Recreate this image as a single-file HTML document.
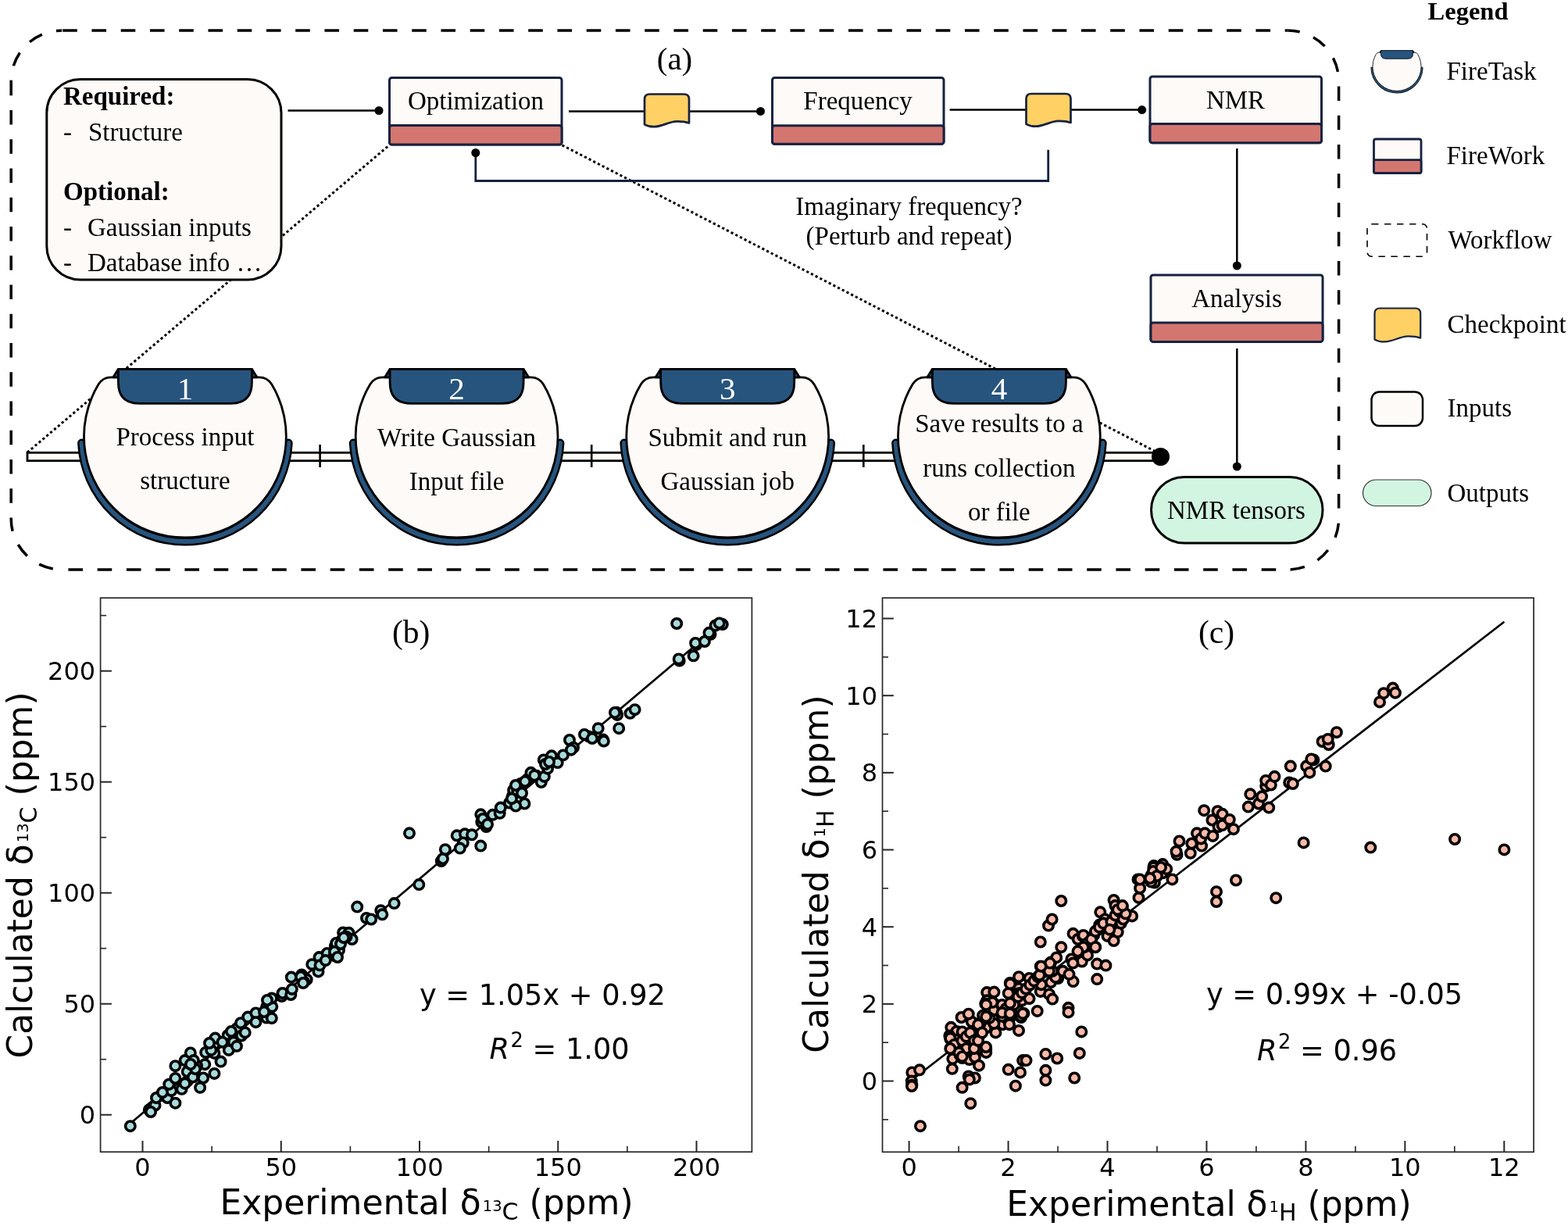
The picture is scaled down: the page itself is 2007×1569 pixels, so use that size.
<!DOCTYPE html>
<html><head><meta charset="utf-8"><title>FireWorks NMR workflow</title>
<style>html,body{margin:0;padding:0;background:#fff;} svg{display:block;}</style></head>
<body><svg width="2007" height="1569" viewBox="0 0 2007 1569">
<rect width="2007" height="1569" fill="#fff"/>
<path d="M79.2,39 L1648.6,39" fill="none" stroke="#000" stroke-width="3.5" stroke-dasharray="18.6 18.65" stroke-dashoffset="36.25"/>
<path d="M1713.6,104 L1713.6,664" fill="none" stroke="#000" stroke-width="3.5" stroke-dasharray="18.6 18.65" stroke-dashoffset="30.75"/>
<path d="M79.2,729 L1648.6,729" fill="none" stroke="#000" stroke-width="3.5" stroke-dasharray="18.6 18.65" stroke-dashoffset="29.05"/>
<path d="M14.2,104 L14.2,664" fill="none" stroke="#000" stroke-width="3.5" stroke-dasharray="18.6 18.65" stroke-dashoffset="0.30"/>
<path d="M14.2,104 A65,65 0 0 1 79.2,39" fill="none" stroke="#000" stroke-width="3.5" stroke-dasharray="18.6 18.65" stroke-dashoffset="17.15"/>
<path d="M1648.6,39 A65,65 0 0 1 1713.6,104" fill="none" stroke="#000" stroke-width="3.5" stroke-dasharray="18.6 18.65" stroke-dashoffset="3.35"/>
<path d="M1713.6,664 A65,65 0 0 1 1648.6,729" fill="none" stroke="#000" stroke-width="3.5" stroke-dasharray="18.6 18.65" stroke-dashoffset="31.45"/>
<path d="M14.2,664 A65,65 0 0 0 79.2,729" fill="none" stroke="#000" stroke-width="3.5" stroke-dasharray="18.6 18.65" stroke-dashoffset="2.65"/>
<text x="863.5" y="88.5" font-family="'Liberation Serif', 'Times New Roman', serif" font-size="41" text-anchor="middle">(a)</text>
<line x1="35" y1="579" x2="498" y2="186" stroke="#000" stroke-width="3" stroke-dasharray="3.2 3.2"/>
<line x1="719.5" y1="185.8" x2="1478" y2="577.3" stroke="#000" stroke-width="3" stroke-dasharray="3.2 3.2"/>
<rect x="59.8" y="101.5" width="300.2" height="256.5" rx="43" ry="43" fill="#FEFAF7" stroke="#000" stroke-width="3"/>
<text font-family="'Liberation Serif', 'Times New Roman', serif" font-size="33"><tspan x="81" y="133.6" font-weight="bold">Required:</tspan><tspan x="81" y="179.8">-</tspan><tspan x="113" y="179.8">Structure</tspan><tspan x="81" y="256.2" font-weight="bold">Optional:</tspan><tspan x="81" y="302">-</tspan><tspan x="112" y="302">Gaussian inputs</tspan><tspan x="81" y="347.3">-</tspan><tspan x="112" y="347.3">Database info …</tspan></text>
<line x1="368.5" y1="141.5" x2="485" y2="141.5" stroke="#000" stroke-width="2.5"/>
<circle cx="485" cy="141.5" r="5.5" fill="#000"/>
<line x1="728" y1="142.4" x2="826" y2="142.4" stroke="#000" stroke-width="2.5"/>
<line x1="882" y1="142.4" x2="973.5" y2="142.4" stroke="#000" stroke-width="2.5"/>
<circle cx="973.5" cy="142.4" r="5.5" fill="#000"/>
<line x1="1215.6" y1="140.6" x2="1314" y2="140.6" stroke="#000" stroke-width="2.5"/>
<line x1="1370" y1="140.6" x2="1461.7" y2="140.6" stroke="#000" stroke-width="2.5"/>
<circle cx="1461.7" cy="140.6" r="5.5" fill="#000"/>
<polyline points="1341.7,191.8 1341.7,231.5 608.8,231.5 608.8,196" fill="none" stroke="#16223F" stroke-width="2.8"/>
<circle cx="608.8" cy="195.5" r="5.5" fill="#000"/>
<line x1="1583.3" y1="190" x2="1583.3" y2="340" stroke="#000" stroke-width="2.5"/>
<circle cx="1583.3" cy="340" r="5.5" fill="#000"/>
<line x1="1583.3" y1="446" x2="1583.3" y2="597" stroke="#000" stroke-width="2.5"/>
<circle cx="1583.3" cy="597" r="5.5" fill="#000"/>
<rect x="498.5" y="99.5" width="220.5" height="85.5" rx="3" fill="#FEFAF7" stroke="#16223F" stroke-width="3"/>
<rect x="498.5" y="160.5" width="220.5" height="24.5" rx="3" fill="#D47670" stroke="#16223F" stroke-width="3"/>
<text x="609" y="140" font-family="'Liberation Serif', 'Times New Roman', serif" font-size="33" text-anchor="middle">Optimization</text>
<rect x="988.5" y="99.5" width="219.5" height="84.69999999999999" rx="3" fill="#FEFAF7" stroke="#16223F" stroke-width="3"/>
<rect x="988.5" y="160.7" width="219.5" height="23.5" rx="3" fill="#D47670" stroke="#16223F" stroke-width="3"/>
<text x="1098" y="139.5" font-family="'Liberation Serif', 'Times New Roman', serif" font-size="33" text-anchor="middle">Frequency</text>
<rect x="1472" y="98" width="219.5" height="84.69999999999999" rx="3" fill="#FEFAF7" stroke="#16223F" stroke-width="3"/>
<rect x="1472" y="158.4" width="219.5" height="24.299999999999983" rx="3" fill="#D47670" stroke="#16223F" stroke-width="3"/>
<text x="1581.5" y="138.8" font-family="'Liberation Serif', 'Times New Roman', serif" font-size="33" text-anchor="middle">NMR</text>
<rect x="1473" y="352" width="220" height="85.39999999999998" rx="3" fill="#FEFAF7" stroke="#16223F" stroke-width="3"/>
<rect x="1473" y="413" width="220" height="24.399999999999977" rx="3" fill="#D47670" stroke="#16223F" stroke-width="3"/>
<text x="1583" y="393.4" font-family="'Liberation Serif', 'Times New Roman', serif" font-size="33" text-anchor="middle">Analysis</text>
<path d="M825.00,127.00 Q825.00,120.50 831.50,120.50 L875.50,120.50 Q882.00,120.50 882.00,127.00 L882.00,157.50 C877.00,155.60 871.00,155.20 866.00,155.30 C856.00,155.40 848.00,162.20 837.00,162.20 C831.00,162.20 828.00,161.00 825.00,159.30 Z" fill="#FFD064" stroke="#16223F" stroke-width="2.7" stroke-linejoin="round"/>
<path d="M1313.50,126.50 Q1313.50,120.00 1320.00,120.00 L1364.00,120.00 Q1370.50,120.00 1370.50,126.50 L1370.50,157.00 C1365.50,155.10 1359.50,154.70 1354.50,154.80 C1344.50,154.90 1336.50,161.70 1325.50,161.70 C1319.50,161.70 1316.50,160.50 1313.50,158.80 Z" fill="#FFD064" stroke="#16223F" stroke-width="2.7" stroke-linejoin="round"/>
<rect x="1473.5" y="610.5" width="219.5" height="84.5" rx="42.25" ry="42.25" fill="#D2F5E1" stroke="#000" stroke-width="3"/>
<text x="1582.5" y="664" font-family="'Liberation Serif', 'Times New Roman', serif" font-size="33" text-anchor="middle">NMR tensors</text>
<rect x="35" y="579.3" width="1450" height="10.4" fill="#FFFCFA" stroke="#000" stroke-width="2.8"/>
<line x1="409.6" y1="569" x2="409.6" y2="598" stroke="#000" stroke-width="2.6"/>
<line x1="757.2" y1="569" x2="757.2" y2="598" stroke="#000" stroke-width="2.6"/>
<line x1="1105.3" y1="569" x2="1105.3" y2="598" stroke="#000" stroke-width="2.6"/>
<circle cx="1485.5" cy="584.5" r="11.5" fill="#000"/>
<path d="M104.56,567.1 A132.5,132.5 0 0 0 369.24,567.1" fill="none" stroke="#000" stroke-width="11" stroke-linecap="round"/>
<path d="M104.56,567.1 A132.5,132.5 0 0 0 369.24,567.1" fill="none" stroke="#27547D" stroke-width="6" stroke-linecap="round"/>
<path d="M151.9,482.8 L142.01,482.8 Q131.50,482.8 126.08,491.80 A129.4,129.4 0 1 0 347.72,491.80 Q342.30,482.8 331.79,482.8 L321.9,482.8 Z" fill="#FEFAF7" stroke="#000" stroke-width="2.8" stroke-linejoin="round"/>
<path d="M151.4,472.3 L144.9,482.8 L151.4,482.8 Z M322.4,472.3 L328.9,482.8 L322.4,482.8 Z" fill="#27547D" stroke="#000" stroke-width="2.8" stroke-linejoin="round"/>
<path d="M151.4,472.3 L322.4,472.3 L322.4,489.4 Q322.4,516.4 295.4,516.4 L178.4,516.4 Q151.4,516.4 151.4,489.4 Z" fill="#27547D" stroke="#000" stroke-width="2.8" stroke-linejoin="round"/>
<text x="236.9" y="511" font-family="'Liberation Serif', 'Times New Roman', serif" font-size="41" fill="#fff" text-anchor="middle">1</text>
<text font-family="'Liberation Serif', 'Times New Roman', serif" font-size="33" text-anchor="middle"><tspan x="236.9" y="569.7">Process input</tspan><tspan x="236.9" y="626.2">structure</tspan></text>
<path d="M452.26,567.1 A132.5,132.5 0 0 0 716.94,567.1" fill="none" stroke="#000" stroke-width="11" stroke-linecap="round"/>
<path d="M452.26,567.1 A132.5,132.5 0 0 0 716.94,567.1" fill="none" stroke="#27547D" stroke-width="6" stroke-linecap="round"/>
<path d="M499.6,482.8 L489.71,482.8 Q479.20,482.8 473.78,491.80 A129.4,129.4 0 1 0 695.42,491.80 Q690.00,482.8 679.49,482.8 L669.6,482.8 Z" fill="#FEFAF7" stroke="#000" stroke-width="2.8" stroke-linejoin="round"/>
<path d="M499.1,472.3 L492.6,482.8 L499.1,482.8 Z M670.1,472.3 L676.6,482.8 L670.1,482.8 Z" fill="#27547D" stroke="#000" stroke-width="2.8" stroke-linejoin="round"/>
<path d="M499.1,472.3 L670.1,472.3 L670.1,489.4 Q670.1,516.4 643.1,516.4 L526.1,516.4 Q499.1,516.4 499.1,489.4 Z" fill="#27547D" stroke="#000" stroke-width="2.8" stroke-linejoin="round"/>
<text x="584.6" y="511" font-family="'Liberation Serif', 'Times New Roman', serif" font-size="41" fill="#fff" text-anchor="middle">2</text>
<text font-family="'Liberation Serif', 'Times New Roman', serif" font-size="33" text-anchor="middle"><tspan x="584.6" y="570.9">Write Gaussian</tspan><tspan x="584.6" y="627.3">Input file</tspan></text>
<path d="M798.86,567.1 A132.5,132.5 0 0 0 1063.54,567.1" fill="none" stroke="#000" stroke-width="11" stroke-linecap="round"/>
<path d="M798.86,567.1 A132.5,132.5 0 0 0 1063.54,567.1" fill="none" stroke="#27547D" stroke-width="6" stroke-linecap="round"/>
<path d="M846.2,482.8 L836.31,482.8 Q825.80,482.8 820.38,491.80 A129.4,129.4 0 1 0 1042.02,491.80 Q1036.60,482.8 1026.09,482.8 L1016.2,482.8 Z" fill="#FEFAF7" stroke="#000" stroke-width="2.8" stroke-linejoin="round"/>
<path d="M845.7,472.3 L839.2,482.8 L845.7,482.8 Z M1016.7,472.3 L1023.2,482.8 L1016.7,482.8 Z" fill="#27547D" stroke="#000" stroke-width="2.8" stroke-linejoin="round"/>
<path d="M845.7,472.3 L1016.7,472.3 L1016.7,489.4 Q1016.7,516.4 989.7,516.4 L872.7,516.4 Q845.7,516.4 845.7,489.4 Z" fill="#27547D" stroke="#000" stroke-width="2.8" stroke-linejoin="round"/>
<text x="931.2" y="511" font-family="'Liberation Serif', 'Times New Roman', serif" font-size="41" fill="#fff" text-anchor="middle">3</text>
<text font-family="'Liberation Serif', 'Times New Roman', serif" font-size="33" text-anchor="middle"><tspan x="931.2" y="571">Submit and run</tspan><tspan x="931.2" y="627.3">Gaussian job</tspan></text>
<path d="M1146.56,567.1 A132.5,132.5 0 0 0 1411.24,567.1" fill="none" stroke="#000" stroke-width="11" stroke-linecap="round"/>
<path d="M1146.56,567.1 A132.5,132.5 0 0 0 1411.24,567.1" fill="none" stroke="#27547D" stroke-width="6" stroke-linecap="round"/>
<path d="M1193.9,482.8 L1184.01,482.8 Q1173.50,482.8 1168.08,491.80 A129.4,129.4 0 1 0 1389.72,491.80 Q1384.30,482.8 1373.79,482.8 L1363.9,482.8 Z" fill="#FEFAF7" stroke="#000" stroke-width="2.8" stroke-linejoin="round"/>
<path d="M1193.4,472.3 L1186.9,482.8 L1193.4,482.8 Z M1364.4,472.3 L1370.9,482.8 L1364.4,482.8 Z" fill="#27547D" stroke="#000" stroke-width="2.8" stroke-linejoin="round"/>
<path d="M1193.4,472.3 L1364.4,472.3 L1364.4,489.4 Q1364.4,516.4 1337.4,516.4 L1220.4,516.4 Q1193.4,516.4 1193.4,489.4 Z" fill="#27547D" stroke="#000" stroke-width="2.8" stroke-linejoin="round"/>
<text x="1278.9" y="511" font-family="'Liberation Serif', 'Times New Roman', serif" font-size="41" fill="#fff" text-anchor="middle">4</text>
<text font-family="'Liberation Serif', 'Times New Roman', serif" font-size="33" text-anchor="middle"><tspan x="1278.9" y="553">Save results to a</tspan><tspan x="1278.9" y="609.5">runs collection</tspan><tspan x="1278.9" y="665.8">or file</tspan></text>
<text font-family="'Liberation Serif', 'Times New Roman', serif" font-size="33" text-anchor="middle"><tspan x="1163.5" y="274.8">Imaginary frequency?</tspan><tspan x="1163.5" y="312.5">(Perturb and repeat)</tspan></text>
<text x="1879" y="25.2" font-family="'Liberation Serif', 'Times New Roman', serif" font-size="32.5" font-weight="bold" text-anchor="middle">Legend</text>
<g transform="translate(1788,64.5) scale(0.24) translate(-236.9,-471.8)">
<path d="M104.56,567.1 A132.5,132.5 0 0 0 369.24,567.1" fill="none" stroke="#000" stroke-width="15" stroke-linecap="round"/>
<path d="M104.56,567.1 A132.5,132.5 0 0 0 369.24,567.1" fill="none" stroke="#27547D" stroke-width="9" stroke-linecap="round"/>
<path d="M151.9,482.8 L142.01,482.8 Q131.50,482.8 126.08,491.80 A129.4,129.4 0 1 0 347.72,491.80 Q342.30,482.8 331.79,482.8 L321.9,482.8 Z" fill="#FEFAF7" stroke="#000" stroke-width="3.5" stroke-linejoin="round"/>
<path d="M151.4,472.3 L144.9,482.8 L151.4,482.8 Z M322.4,472.3 L328.9,482.8 L322.4,482.8 Z" fill="#27547D" stroke="#000" stroke-width="3.5" stroke-linejoin="round"/>
<path d="M151.4,472.3 L322.4,472.3 L322.4,489.4 Q322.4,516.4 295.4,516.4 L178.4,516.4 Q151.4,516.4 151.4,489.4 Z" fill="#27547D" stroke="#000" stroke-width="3.5" stroke-linejoin="round"/>
</g>
<text font-family="'Liberation Serif', 'Times New Roman', serif" font-size="33"><tspan x="1851.5" y="102">FireTask</tspan><tspan x="1851.5" y="210">FireWork</tspan><tspan x="1853.5" y="317.7">Workflow</tspan><tspan x="1852.5" y="426">Checkpoint</tspan><tspan x="1852.5" y="533.4">Inputs</tspan><tspan x="1852.5" y="641.8">Outputs</tspan></text>
<rect x="1758.5" y="178" width="60.5" height="43.5" rx="2.5" fill="#FEFAF7" stroke="#16223F" stroke-width="2.8"/>
<rect x="1758.5" y="204.6" width="60.5" height="16.9" rx="2" fill="#D47670" stroke="#16223F" stroke-width="2.8"/>
<rect x="1750" y="286.8" width="76.5" height="41.5" rx="6" fill="none" stroke="#000" stroke-width="1.6" stroke-dasharray="8.5 7.5"/>
<path d="M1759.50,401.19 Q1759.50,394.50 1766.19,394.50 L1811.52,394.50 Q1818.21,394.50 1818.21,401.19 L1818.21,432.61 C1813.06,430.65 1806.88,430.24 1801.73,430.34 C1791.43,430.45 1783.19,437.45 1771.86,437.45 C1765.68,437.45 1762.59,436.22 1759.50,434.46 Z" fill="#FFD064" stroke="#16223F" stroke-width="2.2" stroke-linejoin="round"/>
<rect x="1755.5" y="501.5" width="65.5" height="43.5" rx="10" fill="#FEFAF7" stroke="#000" stroke-width="2.5"/>
<rect x="1744.5" y="614" width="87.5" height="33.5" rx="16.75" fill="#D2F5E1" stroke="#333" stroke-width="1.2"/>
<rect x="128.6" y="765.2" width="833.8" height="709.0" fill="none" stroke="#262626" stroke-width="1.7"/>
<line x1="128.6" y1="1426.70" x2="142.9" y2="1426.70" stroke="#262626" stroke-width="2"/>
<line x1="128.6" y1="1284.70" x2="142.9" y2="1284.70" stroke="#262626" stroke-width="2"/>
<line x1="128.6" y1="1142.70" x2="142.9" y2="1142.70" stroke="#262626" stroke-width="2"/>
<line x1="128.6" y1="1000.70" x2="142.9" y2="1000.70" stroke="#262626" stroke-width="2"/>
<line x1="128.6" y1="858.70" x2="142.9" y2="858.70" stroke="#262626" stroke-width="2"/>
<line x1="128.6" y1="1355.70" x2="136.1" y2="1355.70" stroke="#262626" stroke-width="1.6"/>
<line x1="128.6" y1="1213.70" x2="136.1" y2="1213.70" stroke="#262626" stroke-width="1.6"/>
<line x1="128.6" y1="1071.70" x2="136.1" y2="1071.70" stroke="#262626" stroke-width="1.6"/>
<line x1="128.6" y1="929.70" x2="136.1" y2="929.70" stroke="#262626" stroke-width="1.6"/>
<line x1="128.6" y1="787.70" x2="136.1" y2="787.70" stroke="#262626" stroke-width="1.6"/>
<text x="122.1" y="1438.30" font-family="'DejaVu Sans', 'Liberation Sans', sans-serif" font-size="32" text-anchor="end">0</text>
<text x="122.1" y="1296.30" font-family="'DejaVu Sans', 'Liberation Sans', sans-serif" font-size="32" text-anchor="end">50</text>
<text x="122.1" y="1154.30" font-family="'DejaVu Sans', 'Liberation Sans', sans-serif" font-size="32" text-anchor="end">100</text>
<text x="122.1" y="1012.30" font-family="'DejaVu Sans', 'Liberation Sans', sans-serif" font-size="32" text-anchor="end">150</text>
<text x="122.1" y="870.30" font-family="'DejaVu Sans', 'Liberation Sans', sans-serif" font-size="32" text-anchor="end">200</text>
<line x1="182.50" y1="1474.2" x2="182.50" y2="1459.9" stroke="#262626" stroke-width="2"/>
<line x1="359.75" y1="1474.2" x2="359.75" y2="1459.9" stroke="#262626" stroke-width="2"/>
<line x1="537.00" y1="1474.2" x2="537.00" y2="1459.9" stroke="#262626" stroke-width="2"/>
<line x1="714.25" y1="1474.2" x2="714.25" y2="1459.9" stroke="#262626" stroke-width="2"/>
<line x1="891.50" y1="1474.2" x2="891.50" y2="1459.9" stroke="#262626" stroke-width="2"/>
<line x1="271.12" y1="1474.2" x2="271.12" y2="1466.7" stroke="#262626" stroke-width="1.6"/>
<line x1="448.38" y1="1474.2" x2="448.38" y2="1466.7" stroke="#262626" stroke-width="1.6"/>
<line x1="625.62" y1="1474.2" x2="625.62" y2="1466.7" stroke="#262626" stroke-width="1.6"/>
<line x1="802.88" y1="1474.2" x2="802.88" y2="1466.7" stroke="#262626" stroke-width="1.6"/>
<text x="182.50" y="1505.2" font-family="'DejaVu Sans', 'Liberation Sans', sans-serif" font-size="32" text-anchor="middle">0</text>
<text x="359.75" y="1505.2" font-family="'DejaVu Sans', 'Liberation Sans', sans-serif" font-size="32" text-anchor="middle">50</text>
<text x="537.00" y="1505.2" font-family="'DejaVu Sans', 'Liberation Sans', sans-serif" font-size="32" text-anchor="middle">100</text>
<text x="714.25" y="1505.2" font-family="'DejaVu Sans', 'Liberation Sans', sans-serif" font-size="32" text-anchor="middle">150</text>
<text x="891.50" y="1505.2" font-family="'DejaVu Sans', 'Liberation Sans', sans-serif" font-size="32" text-anchor="middle">200</text>
<line x1="166.3" y1="1438.2" x2="925.5" y2="796" stroke="#000" stroke-width="2.7"/>
<g fill="#A8DADB" stroke="#000" stroke-width="3.6"><circle cx="166.8" cy="1441.2" r="6.2"/><circle cx="190.8" cy="1420.3" r="6.2"/><circle cx="195.0" cy="1417.0" r="6.2"/><circle cx="198.5" cy="1414.5" r="6.2"/><circle cx="205.6" cy="1402.0" r="6.2"/><circle cx="214.2" cy="1405.0" r="6.2"/><circle cx="224.4" cy="1411.7" r="6.2"/><circle cx="219.3" cy="1395.9" r="6.2"/><circle cx="216.3" cy="1387.7" r="6.2"/><circle cx="224.4" cy="1380.0" r="6.2"/><circle cx="232.6" cy="1393.8" r="6.2"/><circle cx="224.4" cy="1364.2" r="6.2"/><circle cx="236.7" cy="1357.1" r="6.2"/><circle cx="243.8" cy="1347.4" r="6.2"/><circle cx="242.8" cy="1374.4" r="6.2"/><circle cx="239.7" cy="1383.6" r="6.2"/><circle cx="256.1" cy="1391.8" r="6.2"/><circle cx="260.1" cy="1379.5" r="6.2"/><circle cx="274.4" cy="1373.9" r="6.2"/><circle cx="262.2" cy="1362.2" r="6.2"/><circle cx="263.2" cy="1346.9" r="6.2"/><circle cx="252.0" cy="1364.0" r="6.2"/><circle cx="274.4" cy="1347.9" r="6.2"/><circle cx="282.6" cy="1358.6" r="6.2"/><circle cx="274.4" cy="1336.7" r="6.2"/><circle cx="275.4" cy="1328.6" r="6.2"/><circle cx="291.7" cy="1325.0" r="6.2"/><circle cx="292.8" cy="1343.9" r="6.2"/><circle cx="297.9" cy="1332.6" r="6.2"/><circle cx="303.0" cy="1316.3" r="6.2"/><circle cx="308.1" cy="1309.2" r="6.2"/><circle cx="309.0" cy="1325.5" r="6.2"/><circle cx="247.9" cy="1357.1" r="6.2"/><circle cx="313.7" cy="1321.4" r="6.2"/><circle cx="317.2" cy="1301.6" r="6.2"/><circle cx="327.4" cy="1296.5" r="6.2"/><circle cx="327.4" cy="1308.2" r="6.2"/><circle cx="341.2" cy="1302.6" r="6.2"/><circle cx="347.8" cy="1303.1" r="6.2"/><circle cx="341.2" cy="1288.3" r="6.2"/><circle cx="348.3" cy="1288.3" r="6.2"/><circle cx="347.8" cy="1277.6" r="6.2"/><circle cx="360.6" cy="1275.0" r="6.2"/><circle cx="361.6" cy="1271.0" r="6.2"/><circle cx="372.3" cy="1273.0" r="6.2"/><circle cx="373.8" cy="1265.9" r="6.2"/><circle cx="372.8" cy="1250.6" r="6.2"/><circle cx="386.1" cy="1247.5" r="6.2"/><circle cx="392.7" cy="1253.6" r="6.2"/><circle cx="389.1" cy="1256.7" r="6.2"/><circle cx="399.3" cy="1234.2" r="6.2"/><circle cx="407.5" cy="1243.4" r="6.2"/><circle cx="408.5" cy="1225.1" r="6.2"/><circle cx="409.5" cy="1235.3" r="6.2"/><circle cx="418.7" cy="1220.0" r="6.2"/><circle cx="416.7" cy="1229.1" r="6.2"/><circle cx="428.9" cy="1210.8" r="6.2"/><circle cx="434.0" cy="1215.9" r="6.2"/><circle cx="427.9" cy="1223.0" r="6.2"/><circle cx="437.0" cy="1203.7" r="6.2"/><circle cx="439.1" cy="1193.5" r="6.2"/><circle cx="430.2" cy="1207.0" r="6.2"/><circle cx="446.5" cy="1193.8" r="6.2"/><circle cx="450.6" cy="1202.0" r="6.2"/><circle cx="443.5" cy="1198.9" r="6.2"/><circle cx="457.2" cy="1160.6" r="6.2"/><circle cx="469.0" cy="1174.9" r="6.2"/><circle cx="475.1" cy="1176.5" r="6.2"/><circle cx="487.3" cy="1165.2" r="6.2"/><circle cx="489.3" cy="1170.3" r="6.2"/><circle cx="504.6" cy="1156.1" r="6.2"/><circle cx="536.3" cy="1132.1" r="6.2"/><circle cx="524.0" cy="1066.3" r="6.2"/><circle cx="564.8" cy="1102.0" r="6.2"/><circle cx="566.9" cy="1099.0" r="6.2"/><circle cx="569.9" cy="1087.2" r="6.2"/><circle cx="584.7" cy="1069.3" r="6.2"/><circle cx="594.9" cy="1067.3" r="6.2"/><circle cx="604.0" cy="1068.3" r="6.2"/><circle cx="592.8" cy="1078.5" r="6.2"/><circle cx="588.8" cy="1085.6" r="6.2"/><circle cx="615.3" cy="1082.6" r="6.2"/><circle cx="615.3" cy="1042.3" r="6.2"/><circle cx="616.3" cy="1052.0" r="6.2"/><circle cx="622.4" cy="1058.1" r="6.2"/><circle cx="630.6" cy="1042.8" r="6.2"/><circle cx="639.7" cy="1040.8" r="6.2"/><circle cx="640.8" cy="1033.6" r="6.2"/><circle cx="652.0" cy="1027.5" r="6.2"/><circle cx="656.1" cy="1018.3" r="6.2"/><circle cx="657.1" cy="1011.2" r="6.2"/><circle cx="663.2" cy="1024.4" r="6.2"/><circle cx="671.4" cy="1028.5" r="6.2"/><circle cx="660.1" cy="1031.6" r="6.2"/><circle cx="666.3" cy="1003.0" r="6.2"/><circle cx="675.4" cy="996.9" r="6.2"/><circle cx="679.5" cy="988.8" r="6.2"/><circle cx="686.7" cy="992.8" r="6.2"/><circle cx="692.8" cy="1001.0" r="6.2"/><circle cx="696.8" cy="993.9" r="6.2"/><circle cx="695.8" cy="972.4" r="6.2"/><circle cx="701.0" cy="983.7" r="6.2"/><circle cx="706.0" cy="967.3" r="6.2"/><circle cx="662.2" cy="1012.2" r="6.2"/><circle cx="684.1" cy="992.4" r="6.2"/><circle cx="713.7" cy="976.1" r="6.2"/><circle cx="720.8" cy="966.4" r="6.2"/><circle cx="729.0" cy="947.0" r="6.2"/><circle cx="734.0" cy="956.7" r="6.2"/><circle cx="731.0" cy="959.7" r="6.2"/><circle cx="753.4" cy="942.4" r="6.2"/><circle cx="765.7" cy="932.2" r="6.2"/><circle cx="771.8" cy="946.5" r="6.2"/><circle cx="772.8" cy="948.5" r="6.2"/><circle cx="789.1" cy="911.8" r="6.2"/><circle cx="790.1" cy="914.9" r="6.2"/><circle cx="792.2" cy="932.2" r="6.2"/><circle cx="806.5" cy="912.8" r="6.2"/><circle cx="812.6" cy="908.2" r="6.2"/><circle cx="866.2" cy="798.0" r="6.2"/><circle cx="869.7" cy="845.5" r="6.2"/><circle cx="868.7" cy="843.4" r="6.2"/><circle cx="887.6" cy="839.3" r="6.2"/><circle cx="891.2" cy="825.1" r="6.2"/><circle cx="890.1" cy="823.0" r="6.2"/><circle cx="901.9" cy="821.0" r="6.2"/><circle cx="909.5" cy="811.8" r="6.2"/><circle cx="907.5" cy="809.8" r="6.2"/><circle cx="915.6" cy="800.6" r="6.2"/><circle cx="924.8" cy="799.1" r="6.2"/><circle cx="920.7" cy="797.5" r="6.2"/><circle cx="200.0" cy="1405.0" r="6.2"/><circle cx="208.0" cy="1398.0" r="6.2"/><circle cx="193.0" cy="1423.0" r="6.2"/><circle cx="239.7" cy="1371.4" r="6.2"/><circle cx="246.9" cy="1378.5" r="6.2"/><circle cx="236.7" cy="1386.7" r="6.2"/><circle cx="250.0" cy="1368.0" r="6.2"/><circle cx="244.0" cy="1362.0" r="6.2"/><circle cx="270.3" cy="1343.9" r="6.2"/><circle cx="268.0" cy="1335.0" r="6.2"/><circle cx="298.9" cy="1333.7" r="6.2"/><circle cx="303.0" cy="1338.8" r="6.2"/><circle cx="284.6" cy="1333.7" r="6.2"/><circle cx="296.0" cy="1320.0" r="6.2"/><circle cx="385.0" cy="1250.0" r="6.2"/><circle cx="388.0" cy="1258.0" r="6.2"/><circle cx="338.0" cy="1295.0" r="6.2"/><circle cx="342.0" cy="1280.0" r="6.2"/><circle cx="428.0" cy="1218.0" r="6.2"/><circle cx="436.0" cy="1208.0" r="6.2"/><circle cx="440.0" cy="1200.0" r="6.2"/><circle cx="432.0" cy="1225.0" r="6.2"/><circle cx="618.0" cy="1048.0" r="6.2"/><circle cx="624.0" cy="1055.0" r="6.2"/><circle cx="655.0" cy="1022.0" r="6.2"/><circle cx="660.0" cy="1005.0" r="6.2"/><circle cx="668.0" cy="1015.0" r="6.2"/><circle cx="672.0" cy="1000.0" r="6.2"/><circle cx="698.0" cy="978.0" r="6.2"/><circle cx="703.0" cy="975.0" r="6.2"/><circle cx="748.0" cy="940.0" r="6.2"/><circle cx="758.0" cy="945.0" r="6.2"/><circle cx="787.0" cy="912.0" r="6.2"/></g>
<text x="526.2" y="822.6" font-family="'Liberation Serif', 'Times New Roman', serif" font-size="41.5" text-anchor="middle">(b)</text>
<text x="537" y="1285.8" font-family="'DejaVu Sans', 'Liberation Sans', sans-serif" font-size="36.7">y = 1.05x + 0.92</text>
<text x="626.5" y="1355.2" font-family="'DejaVu Sans', 'Liberation Sans', sans-serif" font-size="36.7"><tspan font-style="italic">R</tspan><tspan font-size="25.7" dy="-15" dx="1.5">2</tspan><tspan dy="15"> = 1.00</tspan></text>
<text x="546" y="1554.4" font-family="'DejaVu Sans', 'Liberation Sans', sans-serif" font-size="44" text-anchor="middle">Experimental δ<tspan font-size="19.5" dy="-4.4" dx="2">13</tspan><tspan font-size="30" dy="11">C</tspan><tspan dy="-6.6"> (ppm)</tspan></text>
<text transform="translate(40.6,1120) rotate(-90)" x="0" y="0" font-family="'DejaVu Sans', 'Liberation Sans', sans-serif" font-size="44" text-anchor="middle">Calculated δ<tspan font-size="19.5" dy="-4.4" dx="2">13</tspan><tspan font-size="30" dy="11">C</tspan><tspan dy="-6.6"> (ppm)</tspan></text>
<rect x="1129.5" y="765.2" width="833.5999999999999" height="709.0999999999999" fill="none" stroke="#262626" stroke-width="1.7"/>
<line x1="1129.5" y1="1383.50" x2="1143.8" y2="1383.50" stroke="#262626" stroke-width="2"/>
<line x1="1129.5" y1="1284.84" x2="1143.8" y2="1284.84" stroke="#262626" stroke-width="2"/>
<line x1="1129.5" y1="1186.18" x2="1143.8" y2="1186.18" stroke="#262626" stroke-width="2"/>
<line x1="1129.5" y1="1087.52" x2="1143.8" y2="1087.52" stroke="#262626" stroke-width="2"/>
<line x1="1129.5" y1="988.86" x2="1143.8" y2="988.86" stroke="#262626" stroke-width="2"/>
<line x1="1129.5" y1="890.20" x2="1143.8" y2="890.20" stroke="#262626" stroke-width="2"/>
<line x1="1129.5" y1="791.54" x2="1143.8" y2="791.54" stroke="#262626" stroke-width="2"/>
<line x1="1129.5" y1="1432.83" x2="1137.0" y2="1432.83" stroke="#262626" stroke-width="1.6"/>
<line x1="1129.5" y1="1334.17" x2="1137.0" y2="1334.17" stroke="#262626" stroke-width="1.6"/>
<line x1="1129.5" y1="1235.51" x2="1137.0" y2="1235.51" stroke="#262626" stroke-width="1.6"/>
<line x1="1129.5" y1="1136.85" x2="1137.0" y2="1136.85" stroke="#262626" stroke-width="1.6"/>
<line x1="1129.5" y1="1038.19" x2="1137.0" y2="1038.19" stroke="#262626" stroke-width="1.6"/>
<line x1="1129.5" y1="939.53" x2="1137.0" y2="939.53" stroke="#262626" stroke-width="1.6"/>
<line x1="1129.5" y1="840.87" x2="1137.0" y2="840.87" stroke="#262626" stroke-width="1.6"/>
<text x="1123.0" y="1395.10" font-family="'DejaVu Sans', 'Liberation Sans', sans-serif" font-size="32" text-anchor="end">0</text>
<text x="1123.0" y="1296.44" font-family="'DejaVu Sans', 'Liberation Sans', sans-serif" font-size="32" text-anchor="end">2</text>
<text x="1123.0" y="1197.78" font-family="'DejaVu Sans', 'Liberation Sans', sans-serif" font-size="32" text-anchor="end">4</text>
<text x="1123.0" y="1099.12" font-family="'DejaVu Sans', 'Liberation Sans', sans-serif" font-size="32" text-anchor="end">6</text>
<text x="1123.0" y="1000.46" font-family="'DejaVu Sans', 'Liberation Sans', sans-serif" font-size="32" text-anchor="end">8</text>
<text x="1123.0" y="901.80" font-family="'DejaVu Sans', 'Liberation Sans', sans-serif" font-size="32" text-anchor="end">10</text>
<text x="1123.0" y="803.14" font-family="'DejaVu Sans', 'Liberation Sans', sans-serif" font-size="32" text-anchor="end">12</text>
<line x1="1163.60" y1="1474.3" x2="1163.60" y2="1460.0" stroke="#262626" stroke-width="2"/>
<line x1="1290.55" y1="1474.3" x2="1290.55" y2="1460.0" stroke="#262626" stroke-width="2"/>
<line x1="1417.50" y1="1474.3" x2="1417.50" y2="1460.0" stroke="#262626" stroke-width="2"/>
<line x1="1544.45" y1="1474.3" x2="1544.45" y2="1460.0" stroke="#262626" stroke-width="2"/>
<line x1="1671.40" y1="1474.3" x2="1671.40" y2="1460.0" stroke="#262626" stroke-width="2"/>
<line x1="1798.35" y1="1474.3" x2="1798.35" y2="1460.0" stroke="#262626" stroke-width="2"/>
<line x1="1925.30" y1="1474.3" x2="1925.30" y2="1460.0" stroke="#262626" stroke-width="2"/>
<line x1="1227.07" y1="1474.3" x2="1227.07" y2="1466.8" stroke="#262626" stroke-width="1.6"/>
<line x1="1354.02" y1="1474.3" x2="1354.02" y2="1466.8" stroke="#262626" stroke-width="1.6"/>
<line x1="1480.97" y1="1474.3" x2="1480.97" y2="1466.8" stroke="#262626" stroke-width="1.6"/>
<line x1="1607.92" y1="1474.3" x2="1607.92" y2="1466.8" stroke="#262626" stroke-width="1.6"/>
<line x1="1734.88" y1="1474.3" x2="1734.88" y2="1466.8" stroke="#262626" stroke-width="1.6"/>
<line x1="1861.82" y1="1474.3" x2="1861.82" y2="1466.8" stroke="#262626" stroke-width="1.6"/>
<text x="1163.60" y="1505.3" font-family="'DejaVu Sans', 'Liberation Sans', sans-serif" font-size="32" text-anchor="middle">0</text>
<text x="1290.55" y="1505.3" font-family="'DejaVu Sans', 'Liberation Sans', sans-serif" font-size="32" text-anchor="middle">2</text>
<text x="1417.50" y="1505.3" font-family="'DejaVu Sans', 'Liberation Sans', sans-serif" font-size="32" text-anchor="middle">4</text>
<text x="1544.45" y="1505.3" font-family="'DejaVu Sans', 'Liberation Sans', sans-serif" font-size="32" text-anchor="middle">6</text>
<text x="1671.40" y="1505.3" font-family="'DejaVu Sans', 'Liberation Sans', sans-serif" font-size="32" text-anchor="middle">8</text>
<text x="1798.35" y="1505.3" font-family="'DejaVu Sans', 'Liberation Sans', sans-serif" font-size="32" text-anchor="middle">10</text>
<text x="1925.30" y="1505.3" font-family="'DejaVu Sans', 'Liberation Sans', sans-serif" font-size="32" text-anchor="middle">12</text>
<line x1="1167.1" y1="1382.2" x2="1925.4" y2="795.8" stroke="#000" stroke-width="2.7"/>
<g fill="#F9B9A8" stroke="#000" stroke-width="3.6"><circle cx="1167.3" cy="1372.4" r="6.2"/><circle cx="1177.0" cy="1369.3" r="6.2"/><circle cx="1166.8" cy="1383.6" r="6.2"/><circle cx="1167.3" cy="1388.7" r="6.2"/><circle cx="1178.0" cy="1441.2" r="6.2"/><circle cx="1218.8" cy="1367.8" r="6.2"/><circle cx="1219.3" cy="1355.1" r="6.2"/><circle cx="1217.3" cy="1314.8" r="6.2"/><circle cx="1224.4" cy="1319.9" r="6.2"/><circle cx="1216.3" cy="1329.6" r="6.2"/><circle cx="1224.4" cy="1330.6" r="6.2"/><circle cx="1217.3" cy="1340.8" r="6.2"/><circle cx="1224.4" cy="1342.8" r="6.2"/><circle cx="1228.5" cy="1350.0" r="6.2"/><circle cx="1231.6" cy="1354.0" r="6.2"/><circle cx="1230.6" cy="1302.0" r="6.2"/><circle cx="1243.8" cy="1307.6" r="6.2"/><circle cx="1243.8" cy="1323.5" r="6.2"/><circle cx="1254.0" cy="1324.5" r="6.2"/><circle cx="1243.8" cy="1338.8" r="6.2"/><circle cx="1251.0" cy="1342.8" r="6.2"/><circle cx="1240.8" cy="1356.1" r="6.2"/><circle cx="1247.9" cy="1353.0" r="6.2"/><circle cx="1253.0" cy="1363.7" r="6.2"/><circle cx="1262.2" cy="1342.8" r="6.2"/><circle cx="1262.2" cy="1346.9" r="6.2"/><circle cx="1262.2" cy="1315.3" r="6.2"/><circle cx="1254.0" cy="1311.2" r="6.2"/><circle cx="1272.4" cy="1310.2" r="6.2"/><circle cx="1274.4" cy="1321.4" r="6.2"/><circle cx="1283.6" cy="1311.2" r="6.2"/><circle cx="1290.7" cy="1306.1" r="6.2"/><circle cx="1304.0" cy="1318.9" r="6.2"/><circle cx="1307.0" cy="1302.0" r="6.2"/><circle cx="1293.8" cy="1301.0" r="6.2"/><circle cx="1247.9" cy="1379.5" r="6.2"/><circle cx="1239.7" cy="1377.5" r="6.2"/><circle cx="1240.8" cy="1381.6" r="6.2"/><circle cx="1231.6" cy="1391.8" r="6.2"/><circle cx="1242.3" cy="1412.2" r="6.2"/><circle cx="1290.7" cy="1368.8" r="6.2"/><circle cx="1306.0" cy="1372.4" r="6.2"/><circle cx="1299.9" cy="1389.7" r="6.2"/><circle cx="1309.1" cy="1357.1" r="6.2"/><circle cx="1235.7" cy="1332.6" r="6.2"/><circle cx="1231.6" cy="1320.4" r="6.2"/><circle cx="1236.7" cy="1345.9" r="6.2"/><circle cx="1215.3" cy="1325.5" r="6.2"/><circle cx="1221.4" cy="1335.7" r="6.2"/><circle cx="1239.7" cy="1297.7" r="6.2"/><circle cx="1255.0" cy="1308.9" r="6.2"/><circle cx="1258.1" cy="1299.7" r="6.2"/><circle cx="1263.2" cy="1270.1" r="6.2"/><circle cx="1272.4" cy="1269.6" r="6.2"/><circle cx="1263.2" cy="1280.3" r="6.2"/><circle cx="1261.2" cy="1284.4" r="6.2"/><circle cx="1272.4" cy="1284.4" r="6.2"/><circle cx="1272.4" cy="1292.6" r="6.2"/><circle cx="1282.6" cy="1287.5" r="6.2"/><circle cx="1272.4" cy="1309.9" r="6.2"/><circle cx="1290.7" cy="1271.2" r="6.2"/><circle cx="1291.7" cy="1285.4" r="6.2"/><circle cx="1292.8" cy="1257.9" r="6.2"/><circle cx="1304.0" cy="1250.2" r="6.2"/><circle cx="1304.0" cy="1265.0" r="6.2"/><circle cx="1304.0" cy="1271.2" r="6.2"/><circle cx="1304.0" cy="1293.6" r="6.2"/><circle cx="1295.8" cy="1297.7" r="6.2"/><circle cx="1266.3" cy="1302.8" r="6.2"/><circle cx="1282.6" cy="1300.7" r="6.2"/><circle cx="1308.1" cy="1280.3" r="6.2"/><circle cx="1307.0" cy="1300.7" r="6.2"/><circle cx="1292.0" cy="1311.2" r="6.2"/><circle cx="1310.4" cy="1296.9" r="6.2"/><circle cx="1327.7" cy="1293.9" r="6.2"/><circle cx="1317.5" cy="1278.0" r="6.2"/><circle cx="1331.8" cy="1268.9" r="6.2"/><circle cx="1345.1" cy="1257.1" r="6.2"/><circle cx="1343.0" cy="1272.4" r="6.2"/><circle cx="1347.1" cy="1278.6" r="6.2"/><circle cx="1332.8" cy="1260.2" r="6.2"/><circle cx="1317.5" cy="1252.0" r="6.2"/><circle cx="1373.6" cy="1256.1" r="6.2"/><circle cx="1404.2" cy="1253.1" r="6.2"/><circle cx="1367.5" cy="1289.8" r="6.2"/><circle cx="1367.5" cy="1295.4" r="6.2"/><circle cx="1384.3" cy="1320.4" r="6.2"/><circle cx="1381.8" cy="1347.9" r="6.2"/><circle cx="1375.2" cy="1379.5" r="6.2"/><circle cx="1353.2" cy="1354.5" r="6.2"/><circle cx="1338.4" cy="1348.9" r="6.2"/><circle cx="1338.4" cy="1369.8" r="6.2"/><circle cx="1338.4" cy="1382.6" r="6.2"/><circle cx="1313.5" cy="1357.1" r="6.2"/><circle cx="1354.2" cy="1252.0" r="6.2"/><circle cx="1293.1" cy="1259.2" r="6.2"/><circle cx="1298.2" cy="1282.6" r="6.2"/><circle cx="1331.8" cy="1236.7" r="6.2"/><circle cx="1345.1" cy="1231.6" r="6.2"/><circle cx="1352.2" cy="1225.4" r="6.2"/><circle cx="1351.2" cy="1250.9" r="6.2"/><circle cx="1358.3" cy="1212.2" r="6.2"/><circle cx="1360.4" cy="1242.8" r="6.2"/><circle cx="1368.5" cy="1246.8" r="6.2"/><circle cx="1331.8" cy="1205.5" r="6.2"/><circle cx="1342.0" cy="1184.6" r="6.2"/><circle cx="1346.6" cy="1176.5" r="6.2"/><circle cx="1358.3" cy="1153.0" r="6.2"/><circle cx="1373.6" cy="1194.8" r="6.2"/><circle cx="1379.7" cy="1202.0" r="6.2"/><circle cx="1373.6" cy="1229.5" r="6.2"/><circle cx="1379.7" cy="1221.4" r="6.2"/><circle cx="1384.8" cy="1230.5" r="6.2"/><circle cx="1392.0" cy="1222.4" r="6.2"/><circle cx="1397.1" cy="1206.1" r="6.2"/><circle cx="1400.1" cy="1196.9" r="6.2"/><circle cx="1402.2" cy="1212.2" r="6.2"/><circle cx="1407.3" cy="1183.6" r="6.2"/><circle cx="1408.3" cy="1167.3" r="6.2"/><circle cx="1414.4" cy="1176.5" r="6.2"/><circle cx="1417.5" cy="1197.9" r="6.2"/><circle cx="1404.2" cy="1233.6" r="6.2"/><circle cx="1415.4" cy="1235.6" r="6.2"/><circle cx="1425.6" cy="1204.0" r="6.2"/><circle cx="1430.7" cy="1192.8" r="6.2"/><circle cx="1434.8" cy="1181.6" r="6.2"/><circle cx="1427.7" cy="1158.1" r="6.2"/><circle cx="1425.6" cy="1152.0" r="6.2"/><circle cx="1436.8" cy="1160.2" r="6.2"/><circle cx="1430.7" cy="1165.3" r="6.2"/><circle cx="1449.1" cy="1172.4" r="6.2"/><circle cx="1385.9" cy="1197.9" r="6.2"/><circle cx="1387.9" cy="1212.2" r="6.2"/><circle cx="1422.6" cy="1183.6" r="6.2"/><circle cx="1339.0" cy="1242.8" r="6.2"/><circle cx="1347.1" cy="1242.8" r="6.2"/><circle cx="1457.5" cy="1148.9" r="6.2"/><circle cx="1459.1" cy="1136.7" r="6.2"/><circle cx="1456.5" cy="1125.4" r="6.2"/><circle cx="1470.8" cy="1125.4" r="6.2"/><circle cx="1477.9" cy="1117.3" r="6.2"/><circle cx="1477.9" cy="1129.5" r="6.2"/><circle cx="1476.9" cy="1108.1" r="6.2"/><circle cx="1488.1" cy="1106.1" r="6.2"/><circle cx="1488.1" cy="1117.3" r="6.2"/><circle cx="1493.2" cy="1112.2" r="6.2"/><circle cx="1500.4" cy="1125.4" r="6.2"/><circle cx="1506.5" cy="1093.8" r="6.2"/><circle cx="1505.5" cy="1089.7" r="6.2"/><circle cx="1509.5" cy="1076.5" r="6.2"/><circle cx="1523.8" cy="1091.8" r="6.2"/><circle cx="1525.3" cy="1079.5" r="6.2"/><circle cx="1532.0" cy="1066.3" r="6.2"/><circle cx="1538.1" cy="1082.6" r="6.2"/><circle cx="1537.1" cy="1073.4" r="6.2"/><circle cx="1542.2" cy="1066.3" r="6.2"/><circle cx="1541.2" cy="1037.2" r="6.2"/><circle cx="1552.4" cy="1069.9" r="6.2"/><circle cx="1551.4" cy="1049.5" r="6.2"/><circle cx="1558.5" cy="1038.2" r="6.2"/><circle cx="1564.6" cy="1041.8" r="6.2"/><circle cx="1559.5" cy="1058.1" r="6.2"/><circle cx="1564.6" cy="1056.1" r="6.2"/><circle cx="1573.8" cy="1048.9" r="6.2"/><circle cx="1578.9" cy="1061.2" r="6.2"/><circle cx="1582.0" cy="1126.5" r="6.2"/><circle cx="1557.0" cy="1141.2" r="6.2"/><circle cx="1557.0" cy="1154.0" r="6.2"/><circle cx="1436.1" cy="1160.6" r="6.2"/><circle cx="1597.7" cy="1032.6" r="6.2"/><circle cx="1600.3" cy="1016.3" r="6.2"/><circle cx="1611.0" cy="1028.5" r="6.2"/><circle cx="1615.1" cy="1019.3" r="6.2"/><circle cx="1624.2" cy="1033.6" r="6.2"/><circle cx="1620.2" cy="1006.1" r="6.2"/><circle cx="1620.2" cy="998.9" r="6.2"/><circle cx="1626.8" cy="1004.5" r="6.2"/><circle cx="1631.4" cy="993.8" r="6.2"/><circle cx="1650.2" cy="1001.5" r="6.2"/><circle cx="1654.8" cy="1003.0" r="6.2"/><circle cx="1651.8" cy="980.6" r="6.2"/><circle cx="1672.2" cy="980.6" r="6.2"/><circle cx="1676.3" cy="988.7" r="6.2"/><circle cx="1681.4" cy="972.4" r="6.2"/><circle cx="1678.3" cy="971.4" r="6.2"/><circle cx="1696.7" cy="980.6" r="6.2"/><circle cx="1692.6" cy="949.0" r="6.2"/><circle cx="1700.7" cy="953.0" r="6.2"/><circle cx="1699.7" cy="945.9" r="6.2"/><circle cx="1710.9" cy="937.2" r="6.2"/><circle cx="1668.6" cy="1078.4" r="6.2"/><circle cx="1633.2" cy="1149.2" r="6.2"/><circle cx="1766.0" cy="898.4" r="6.2"/><circle cx="1771.1" cy="887.2" r="6.2"/><circle cx="1782.8" cy="880.6" r="6.2"/><circle cx="1785.9" cy="886.7" r="6.2"/><circle cx="1754.3" cy="1084.6" r="6.2"/><circle cx="1862.1" cy="1074.0" r="6.2"/><circle cx="1925.4" cy="1087.4" r="6.2"/><circle cx="1216.3" cy="1328.7" r="6.2"/><circle cx="1221.4" cy="1336.9" r="6.2"/><circle cx="1231.6" cy="1331.8" r="6.2"/><circle cx="1236.7" cy="1326.7" r="6.2"/><circle cx="1241.8" cy="1321.6" r="6.2"/><circle cx="1246.9" cy="1331.8" r="6.2"/><circle cx="1236.7" cy="1342.0" r="6.2"/><circle cx="1227.5" cy="1347.1" r="6.2"/><circle cx="1216.3" cy="1342.0" r="6.2"/><circle cx="1231.6" cy="1352.2" r="6.2"/><circle cx="1246.9" cy="1342.0" r="6.2"/><circle cx="1252.0" cy="1331.8" r="6.2"/><circle cx="1252.0" cy="1311.4" r="6.2"/><circle cx="1257.1" cy="1321.6" r="6.2"/><circle cx="1262.2" cy="1301.2" r="6.2"/><circle cx="1282.6" cy="1285.9" r="6.2"/><circle cx="1287.7" cy="1291.0" r="6.2"/><circle cx="1282.6" cy="1296.1" r="6.2"/><circle cx="1292.8" cy="1297.1" r="6.2"/><circle cx="1297.9" cy="1285.9" r="6.2"/><circle cx="1303.0" cy="1275.7" r="6.2"/><circle cx="1308.1" cy="1270.6" r="6.2"/><circle cx="1313.2" cy="1265.5" r="6.2"/><circle cx="1318.3" cy="1260.4" r="6.2"/><circle cx="1323.4" cy="1255.3" r="6.2"/><circle cx="1328.5" cy="1250.2" r="6.2"/><circle cx="1270.3" cy="1282.8" r="6.2"/><circle cx="1262.2" cy="1285.9" r="6.2"/><circle cx="1309.1" cy="1297.1" r="6.2"/><circle cx="1292.8" cy="1283.9" r="6.2"/><circle cx="1262.0" cy="1340.0" r="6.2"/><circle cx="1167.0" cy="1390.0" r="6.2"/><circle cx="1386.7" cy="1196.9" r="6.2"/><circle cx="1391.8" cy="1207.1" r="6.2"/><circle cx="1396.9" cy="1202.0" r="6.2"/><circle cx="1402.0" cy="1212.2" r="6.2"/><circle cx="1386.7" cy="1212.2" r="6.2"/><circle cx="1379.5" cy="1217.3" r="6.2"/><circle cx="1371.4" cy="1227.5" r="6.2"/><circle cx="1373.4" cy="1232.6" r="6.2"/><circle cx="1402.0" cy="1191.8" r="6.2"/><circle cx="1407.1" cy="1186.7" r="6.2"/><circle cx="1412.2" cy="1181.6" r="6.2"/><circle cx="1422.4" cy="1179.5" r="6.2"/><circle cx="1427.5" cy="1171.4" r="6.2"/><circle cx="1432.6" cy="1166.3" r="6.2"/><circle cx="1437.7" cy="1176.5" r="6.2"/><circle cx="1440.7" cy="1169.3" r="6.2"/><circle cx="1427.5" cy="1159.1" r="6.2"/><circle cx="1430.5" cy="1164.2" r="6.2"/><circle cx="1436.7" cy="1159.1" r="6.2"/><circle cx="1420.3" cy="1189.7" r="6.2"/><circle cx="1459.1" cy="1125.5" r="6.2"/><circle cx="1473.4" cy="1120.4" r="6.2"/><circle cx="1476.4" cy="1110.2" r="6.2"/><circle cx="1473.4" cy="1128.6" r="6.2"/><circle cx="1342.8" cy="1242.8" r="6.2"/><circle cx="1330.6" cy="1247.9" r="6.2"/><circle cx="1343.9" cy="1232.6" r="6.2"/><circle cx="1332.6" cy="1236.7" r="6.2"/><circle cx="1476.0" cy="1115.0" r="6.2"/><circle cx="1481.0" cy="1121.0" r="6.2"/><circle cx="1486.0" cy="1110.0" r="6.2"/><circle cx="1472.0" cy="1124.0" r="6.2"/></g>
<text x="1557" y="822.6" font-family="'Liberation Serif', 'Times New Roman', serif" font-size="41.5" text-anchor="middle">(c)</text>
<text x="1544" y="1285.3" font-family="'DejaVu Sans', 'Liberation Sans', sans-serif" font-size="36.7">y = 0.99x + -0.05</text>
<text x="1609" y="1357.2" font-family="'DejaVu Sans', 'Liberation Sans', sans-serif" font-size="36.7"><tspan font-style="italic">R</tspan><tspan font-size="25.7" dy="-15" dx="1.5">2</tspan><tspan dy="15"> = 0.96</tspan></text>
<text x="1547.4" y="1555.6" font-family="'DejaVu Sans', 'Liberation Sans', sans-serif" font-size="44" text-anchor="middle">Experimental δ<tspan font-size="19.5" dy="-4.4" dx="2">1</tspan><tspan font-size="30" dy="11">H</tspan><tspan dy="-6.6"> (ppm)</tspan></text>
<text transform="translate(1060.4,1118.6) rotate(-90)" x="0" y="0" font-family="'DejaVu Sans', 'Liberation Sans', sans-serif" font-size="44" text-anchor="middle">Calculated δ<tspan font-size="19.5" dy="-4.4" dx="2">1</tspan><tspan font-size="30" dy="11">H</tspan><tspan dy="-6.6"> (ppm)</tspan></text>
</svg></body></html>
